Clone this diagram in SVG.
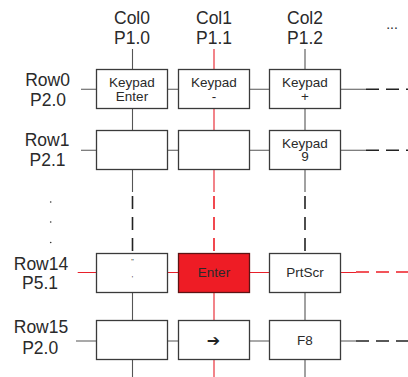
<svg xmlns="http://www.w3.org/2000/svg" width="408" height="377" viewBox="0 0 408 377">
<style>
text{font-family:"Liberation Sans",Arial,sans-serif;fill:#2a2a2a}
.lbl{font-size:17.5px;text-anchor:middle}
.key{font-size:13.5px;text-anchor:middle}
.box{fill:#fff;stroke:#3a3a3a;stroke-width:1.3}
.red{fill:#ee1c25;stroke:#5c1414;stroke-width:1.3}
.ln{stroke:#555;stroke-width:1.1;fill:none}
.rl{stroke:#e8202a;stroke-width:1.1;fill:none}
.dk{stroke:#222;stroke-width:1.6;fill:none}
.rd{stroke:#ee1c25;stroke-width:1.6;fill:none}
.dh{stroke-dasharray:13 7}
.dv{stroke-dasharray:13 8}
</style>
<rect width="408" height="377" fill="#fff"/>
<g id="labels">
<text class="lbl" x="132" y="23.5">Col0</text>
<text class="lbl" x="132" y="44">P1.0</text>
<text class="lbl" x="214" y="23.5">Col1</text>
<text class="lbl" x="214" y="44">P1.1</text>
<text class="lbl" x="305" y="23.5">Col2</text>
<text class="lbl" x="305" y="44">P1.2</text>
<text x="392" y="29" style="font-size:14px;text-anchor:middle">...</text>
<text class="lbl" x="47.5" y="85.5">Row0</text>
<text class="lbl" x="48" y="105.5">P2.0</text>
<text class="lbl" x="47" y="145.5">Row1</text>
<text class="lbl" x="47.5" y="166">P2.1</text>
<circle cx="50.7" cy="202" r="0.8" fill="#333"/>
<circle cx="50.7" cy="222" r="0.8" fill="#333"/>
<circle cx="50.7" cy="242.5" r="0.8" fill="#333"/>
<text class="lbl" x="41" y="269.5">Row14</text>
<text class="lbl" x="40" y="289">P5.1</text>
<text class="lbl" x="41" y="332.5">Row15</text>
<text class="lbl" x="40.2" y="353.5">P2.0</text>
</g>
<g id="connectors">
<path class="ln" d="M132.5 49V192M132.5 292.5V377"/>
<path class="dk dv" d="M132.5 196V253"/>
<path class="rl" d="M214 49V192M214 292.5V377"/>
<path class="rd dv" d="M214 196V253"/>
<path class="ln" d="M305 49V192M305 292.5V377"/>
<path class="dk dv" d="M305 196V253"/>
<path class="ln" d="M81 89.3H366M81 150.3H366M76 341H356"/>
<path class="dk dh" d="M366 89.3H408M366 150.3H408M356 341H408"/>
<path class="rl" d="M77.7 272.5H356"/>
<path class="rd dh" d="M356 272H408"/>
</g>
<g id="r0c0"><rect class="box" x="96.5" y="69.5" width="71" height="39"/><text class="key" x="132" y="87.3">Keypad</text><text class="key" x="132" y="101">Enter</text></g>
<g id="r0c1"><rect class="box" x="178.5" y="69.5" width="71" height="39"/><text class="key" x="214" y="87.3">Keypad</text><text class="key" x="214" y="101">-</text></g>
<g id="r0c2"><rect class="box" x="269.5" y="69.5" width="71" height="39"/><text class="key" x="305" y="87.3">Keypad</text><text class="key" x="305" y="101">+</text></g>
<g id="r1c0"><rect class="box" x="96.5" y="130.5" width="71" height="39"/></g>
<g id="r1c1"><rect class="box" x="178.5" y="130.5" width="71" height="39"/></g>
<g id="r1c2"><rect class="box" x="269.5" y="130.5" width="71" height="39"/><text class="key" x="305" y="147.7">Keypad</text><text class="key" x="305" y="161.3">9</text></g>
<g id="r14c0"><rect class="box" x="96.5" y="253.5" width="71" height="39"/><text x="132.5" y="264" style="font-size:7px;text-anchor:middle">"</text><text x="132.5" y="281" style="font-size:7px;text-anchor:middle">'</text></g>
<g id="r14c1"><rect class="red" x="178.5" y="253.5" width="71" height="39"/><text class="key" x="214" y="277">Enter</text></g>
<g id="r14c2"><rect class="box" x="269.5" y="253.5" width="71" height="39"/><text class="key" x="305" y="277">PrtScr</text></g>
<g id="r15c0"><rect class="box" x="96.5" y="320.5" width="71" height="39"/></g>
<g id="r15c1"><rect class="box" x="178.5" y="320.5" width="71" height="39"/><text x="213.5" y="346" style="font-family:'DejaVu Sans',sans-serif;font-size:16px;font-weight:bold;text-anchor:middle;fill:#222">➔</text></g>
<g id="r15c2"><rect class="box" x="269.5" y="320.5" width="71" height="39"/><text class="key" x="305" y="345.3">F8</text></g>
</svg>
